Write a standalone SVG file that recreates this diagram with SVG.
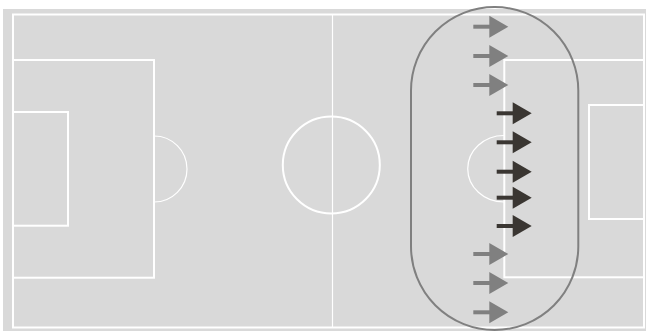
<svg xmlns="http://www.w3.org/2000/svg" width="646" height="331" viewBox="0 0 646 331">
<style>
.ln{fill:none;stroke:#ffffff;stroke-width:2}
.thin{fill:none;stroke:#ffffff;stroke-width:1.2}
.g{fill:#808080}
.d{fill:#3a3632}
</style>
<defs>
<g id="arr">
<rect x="0" y="-2" width="17" height="4"/>
<polygon points="16,-11 35,0 16,11"/>
</g>
</defs>
<rect x="0" y="0" width="646" height="331" fill="#ffffff"/>
<rect x="3" y="9" width="643" height="322" fill="#d9d9d9"/>
<g id="pitch">
<rect class="ln" x="13" y="14.5" width="631" height="313"/>
<line class="thin" x1="332.5" y1="14.5" x2="332.5" y2="327.5"/>
<circle class="ln" cx="331.3" cy="165" r="48.5"/>
<rect class="ln" x="13" y="60" width="141" height="217.7"/>
<rect class="ln" x="13" y="112" width="55" height="113.7"/>
<path class="thin" d="M154,136 A33,33 0 0 1 154,202"/>
<rect class="ln" x="504.3" y="60" width="139.7" height="217.3"/>
<rect class="ln" x="589" y="105" width="55" height="114"/>
<path class="thin" d="M504,135.5 A36,33 0 0 0 504,202"/>
</g>
<g id="zone">
<rect x="411" y="7" width="167.3" height="323" rx="83.6" ry="83.6" fill="none" stroke="#808080" stroke-width="2"/>
</g>
<g id="arrows">
<use href="#arr" class="g" x="473.3" y="26.7"/>
<use href="#arr" class="g" x="473.3" y="56"/>
<use href="#arr" class="g" x="473.3" y="85"/>
<use href="#arr" class="d" x="496.7" y="113.3"/>
<use href="#arr" class="d" x="496.7" y="142.3"/>
<use href="#arr" class="d" x="496.7" y="171.7"/>
<use href="#arr" class="d" x="496.7" y="197.7"/>
<use href="#arr" class="d" x="496.7" y="226"/>
<use href="#arr" class="g" x="473.3" y="254"/>
<use href="#arr" class="g" x="473.3" y="283"/>
<use href="#arr" class="g" x="473.3" y="312.3"/>
</g>
</svg>
